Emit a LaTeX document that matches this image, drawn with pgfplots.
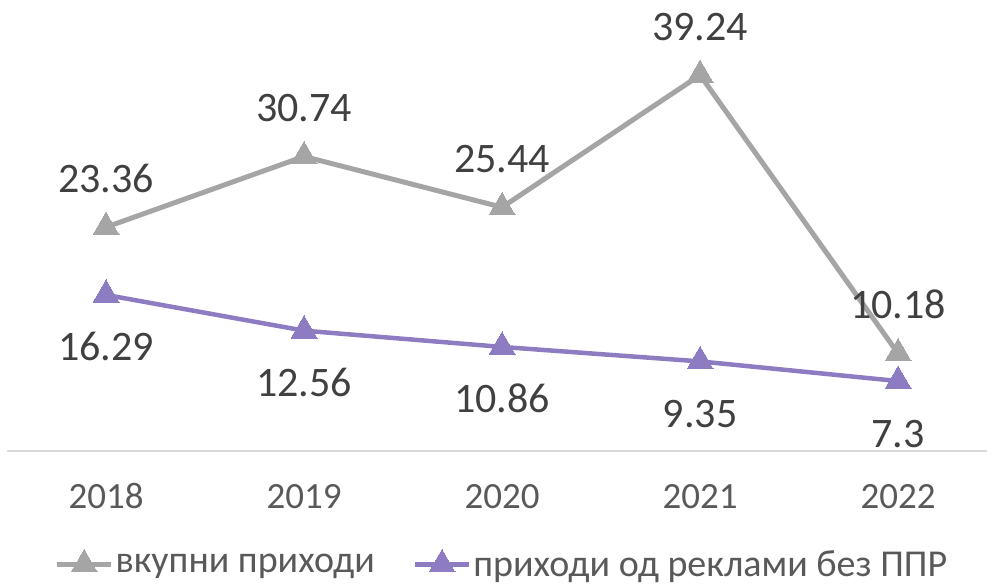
\documentclass[border=0pt]{standalone}
\usepackage{fontspec}
\setmainfont{Carlito}
\usepackage{pgfplots}
\pgfplotsset{compat=1.18}
\definecolor{grayline}{HTML}{A5A5A5}
\definecolor{purpline}{HTML}{8E7CC3}
\definecolor{lbl}{HTML}{404040}
\definecolor{tck}{HTML}{595959}
\definecolor{axln}{HTML}{D9D9D9}
\begin{document}
\begin{tikzpicture}
\path[use as bounding box] (0,0) rectangle (987pt,588pt);
\begin{axis}[
    at={(7pt,137pt)}, anchor=south west,
    scale only axis, width=980pt, height=450.3pt,
    xmin=-0.5, xmax=4.449, ymin=0, ymax=47,
    clip=false,
    hide y axis,
    axis x line=bottom,
    x axis line style={draw=axln, line width=1.3pt, -},
    xtick={0,1,2,3,4},
    xticklabels={2018,2019,2020,2021,2022},
    major tick length=0pt,
    xticklabel style={font=\fontsize{37}{42}\selectfont, text=tck, anchor=base, yshift=-58pt},
    point meta=explicit symbolic,
    nodes near coords,
    every node near coord/.append style={font=\fontsize{42}{48}\selectfont, text=lbl, anchor=base},
    legend columns=2,
    legend style={at={(0.505,-0.252)}, anchor=center, draw=none, fill=none,
        font=\fontsize{38}{42}\selectfont, text=tck,
        /tikz/every even column/.append style={column sep=36pt}},
    legend image code/.code={\draw[mark repeat=2,mark phase=2] plot coordinates {(0pt,0pt) (27pt,0pt) (54pt,0pt)};},
]
\addplot[color=grayline, line width=5pt, mark=triangle*, mark size=15pt,
    mark options={solid, line width=0pt},
    every node near coord/.append style={yshift=35pt}] coordinates {
    (0,23.36) [23.36]
    (1,30.74) [30.74]
    (2,25.44) [25.44]
    (3,39.24) [39.24]
    (4,10.18) [10.18]
};
\addlegendentry{вкупни приходи}
\addplot[color=purpline, line width=4.5pt, mark=triangle*, mark size=15pt,
    mark options={solid, line width=0pt},
    every node near coord/.append style={yshift=-66pt}] coordinates {
    (0,16.29) [16.29]
    (1,12.56) [12.56]
    (2,10.86) [10.86]
    (3,9.35) [9.35]
    (4,7.3) [7.3]
};
\addlegendentry{приходи од реклами без ППР}
\end{axis}
\end{tikzpicture}
\end{document}
